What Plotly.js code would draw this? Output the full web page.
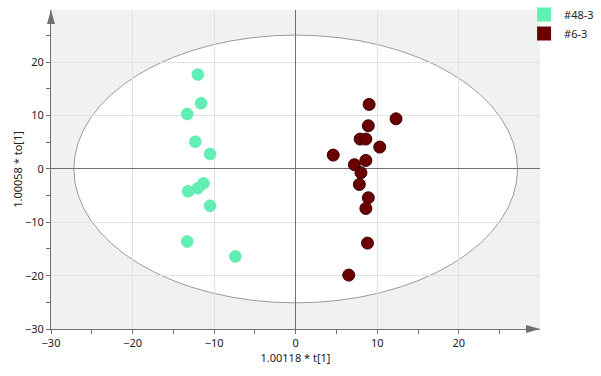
<!DOCTYPE html>
<html>
<head>
<meta charset="utf-8">
<script src="https://cdn.plot.ly/plotly-3.0.1.min.js"></script>
<style>html,body{margin:0;padding:0;background:#fff;}#chart{width:601px;height:376px;}</style>
</head>
<body>
<div id="chart"></div>
<script>
// Data
const seriesNames = ["#48-3", "#6-3"];
const group48_t  = [-12.0, -11.6, -13.3, -12.3, -10.5, -11.3, -12.0, -13.2, -10.5, -13.3, -7.4];
const group48_to = [17.7, 12.3, 10.3, 5.1, 2.8, -2.7, -3.6, -4.2, -6.9, -13.6, -16.4];
const group6_t   = [9.0, 12.3, 8.9, 7.9, 8.6, 10.3, 4.6, 8.6, 7.2, 8.0, 7.8, 8.9, 8.6, 8.8, 6.5];
const group6_to  = [12.1, 9.4, 8.1, 5.6, 5.6, 4.1, 2.6, 1.6, 0.8, -0.7, -2.9, -5.4, -7.4, -13.9, -19.9];
const ellipseT = 27.2;   // semi-axis along t[1]
const ellipseTo = 25.1;  // semi-axis along to[1]
const tickValues = [-30, -20, -10, 0, 10, 20];
const xTitle = "1.00118 * t[1]";
const yTitle = "1.00058 * to[1]";

const green = "#62efb6";
const darkRed = "#6b0000";
const font = "Noto Sans, Open Sans, sans-serif";

const traces = [
  {x: group48_t, y: group48_to, type: "scatter", mode: "markers", name: seriesNames[0], showlegend: false,
   marker: {color: green, size: 12, line: {color: "#55e0a8", width: 0.5}}},
  {x: group6_t, y: group6_to, type: "scatter", mode: "markers", name: seriesNames[1], showlegend: false,
   marker: {color: darkRed, size: 12, line: {color: "#3a0000", width: 1}}},
  {x: [null], y: [null], type: "scatter", mode: "markers", name: seriesNames[0],
   marker: {color: green, size: 14, symbol: "square"}},
  {x: [null], y: [null], type: "scatter", mode: "markers", name: seriesNames[1],
   marker: {color: darkRed, size: 14, symbol: "square"}}
];

const PW = 489, PH = 319;
const axisCommon = {
  showgrid: true, gridcolor: "#dde2e2", gridwidth: 1,
  zeroline: true, zerolinecolor: "#707070", zerolinewidth: 1,
  showline: true, linecolor: "#6e6e6e", linewidth: 1,
  ticks: "outside", ticklen: 4, tickcolor: "#6e6e6e",
  tickvals: tickValues,
  tickfont: {family: font, size: 11, color: "#222"},
  minor: {ticks: "outside", dtick: 5, ticklen: 4, tickcolor: "#6e6e6e", showgrid: false},
  fixedrange: true,
  automargin: false
};

const layout = {
  width: 601, height: 376,
  margin: {l: 51, r: 61, t: 10, b: 47, autoexpand: false},
  paper_bgcolor: "#ffffff",
  plot_bgcolor: "#f0f2f2",
  showlegend: true,
  legend: {xref: "container", yref: "container", x: 0.872, y: 1.0, xanchor: "left", yanchor: "top",
           bgcolor: "rgba(0,0,0,0)", font: {family: font, size: 11, color: "#222"},
           itemwidth: 30, tracegroupgap: 0},
  xaxis: Object.assign({}, axisCommon, {range: [-30, 29.95],
    title: {text: xTitle, font: {family: font, size: 11, color: "#222"}, standoff: 4}}),
  yaxis: Object.assign({}, axisCommon, {range: [-30, 29.8],
    title: {text: yTitle, font: {family: font, size: 11, color: "#222"}, standoff: 0}}),
  shapes: [
    {type: "circle", xref: "x", yref: "y", x0: -ellipseT, x1: ellipseT, y0: -ellipseTo, y1: ellipseTo,
     fillcolor: "#ffffff", line: {color: "#9a9a9a", width: 1}, layer: "below"},
    // arrow heads
    {type: "path", xref: "paper", yref: "paper", layer: "above",
     path: `M 1 0 L ${1 - 14/PW} ${4/PH} L ${1 - 14/PW} ${-4/PH} Z`,
     fillcolor: "#6e6e6e", line: {width: 0}},
    {type: "path", xref: "paper", yref: "paper", layer: "above",
     path: `M 0 1 L ${4/PW} ${1 - 14/PH} L ${-4/PW} ${1 - 14/PH} Z`,
     fillcolor: "#6e6e6e", line: {width: 0}}
  ]
};

Plotly.newPlot("chart", traces, layout, {displayModeBar: false, staticPlot: true});
</script>
</body>
</html>
